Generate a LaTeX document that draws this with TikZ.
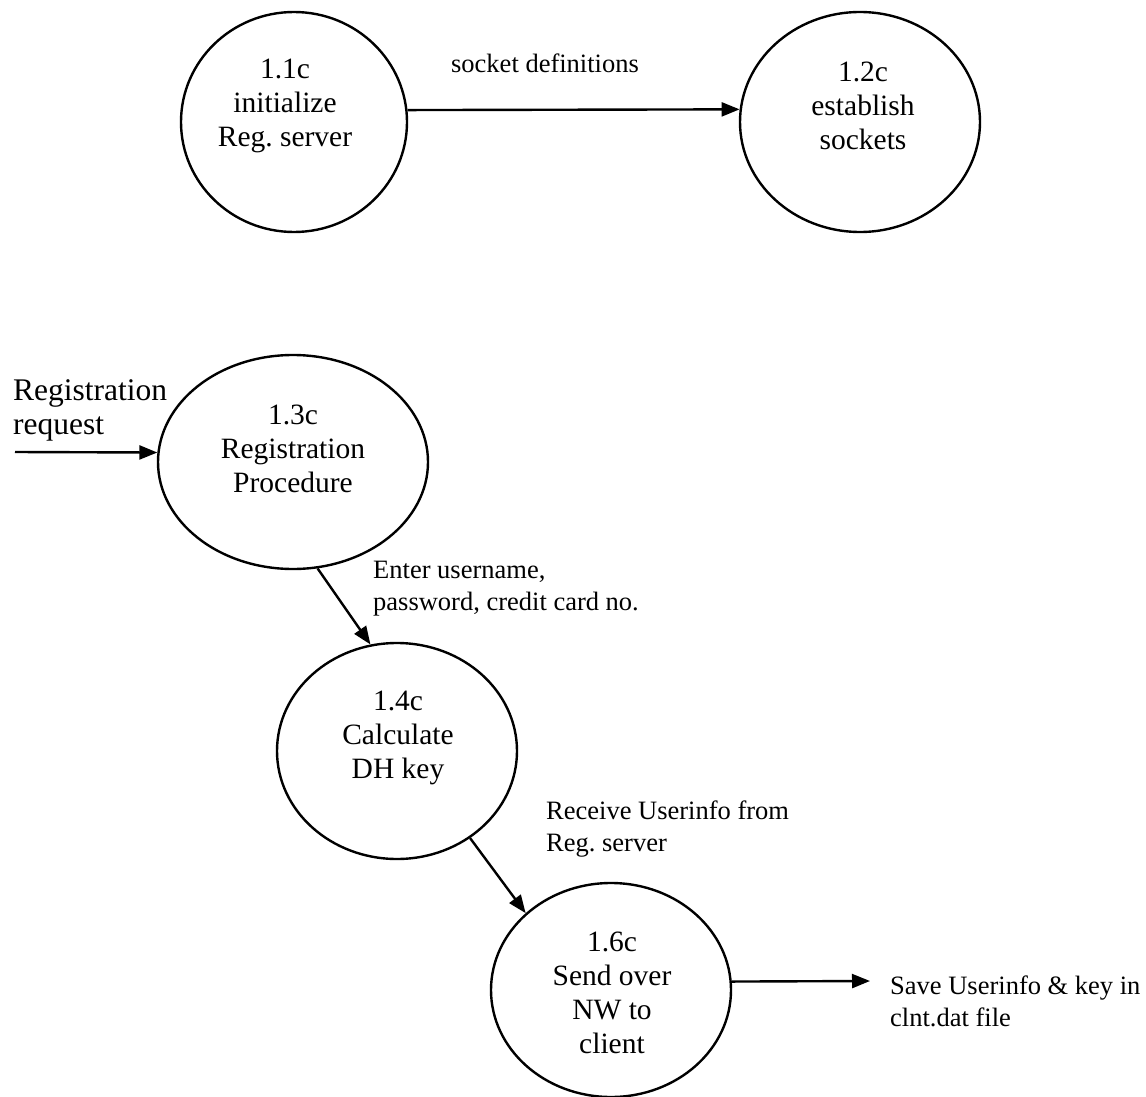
\documentclass[tikz,border=0pt]{standalone}
\usepackage{fontspec}
\setmainfont{Liberation Serif}
\frenchspacing
\usetikzlibrary{arrows.meta,shapes.geometric}
\begin{document}
\begin{tikzpicture}[x=1pt,y=-1pt,
  proc/.style={ellipse, draw, line width=2.4pt, inner sep=0pt},
  ptext/.style={align=center, font=\fontsize{29.5}{34}\selectfont},
  lbl/.style={align=left, anchor=west, font=\fontsize{26.5}{32}\selectfont, inner sep=0pt},
  flow/.style={line width=2.4pt, -{Triangle[length=18pt,width=14pt]}}]
\fill[white] (0,0) rectangle (1146,1097);
\useasboundingbox (0,0) rectangle (1146,1097);

\node[proc, minimum width=226, minimum height=220,
  label={[ptext,xshift=-9,yshift=16]center:{1.1c\\initialize\\Reg. server}}] (n11) at (294,122) {};
\node[proc, minimum width=240, minimum height=220,
  label={[ptext,xshift=3,yshift=16]center:{1.2c\\establish\\sockets}}] (n12) at (860,122) {};
\node[proc, minimum width=270, minimum height=214,
  label={[ptext,xshift=0,yshift=13]center:{1.3c\\Registration\\Procedure}}] (n13) at (293,462) {};
\node[proc, minimum width=240, minimum height=216,
  label={[ptext,xshift=1,yshift=13]center:{1.4c\\Calculate\\DH key}}] (n14) at (397,751) {};
\node[proc, minimum width=240, minimum height=214,
  label={[ptext,xshift=1,yshift=-3]center:{1.6c\\Send over\\NW to\\client}}] (n16) at (611,990) {};

\coordinate (rin) at (15,452);
\coordinate (sv) at (870,981);

\draw[flow] (n11.6) -- (n12.174);
\draw[flow] (rin) -- (n13.176);
\draw[flow] (n13.-77) -- (n14.104);
\draw[flow] (n14.-50) -- (n16.138);
\draw[flow] (n16.4) -- (sv);

\node[font=\fontsize{26.5}{32}\selectfont, inner sep=0pt] (lsock) at (545,63) {socket definitions};
\node[lbl, font=\fontsize{31.5}{34}\selectfont] (lreg) at (13,410) {Registration\\request};
\node[lbl] (lenter) at (373,589) {Enter username,\\password, credit card no.};
\node[lbl] (lrecv) at (546,829) {Receive Userinfo from\\Reg. server};
\node[lbl] (lsave) at (890,1001) {Save Userinfo \& key in\\clnt.dat file};
\end{tikzpicture}
\end{document}
